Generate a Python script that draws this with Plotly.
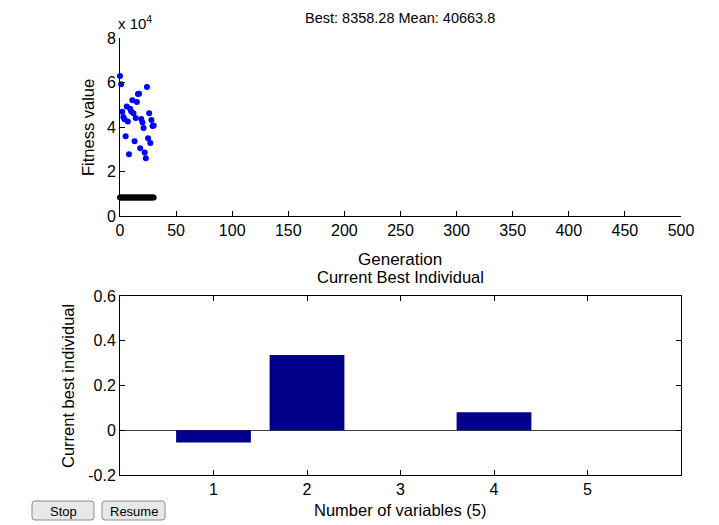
import plotly.graph_objects as go

# The page body has an 8px margin, so the figure is drawn 8px in from the top-left.
OFF = 8
W, H = 719 - OFF, 525 - OFF

# ---- data ----
generations = list(range(31))
best_fitness = [8358.28] * 31
mean_fitness = [62900, 59200, 46800, 44500, 43500, 35800, 49200, 42500, 27800, 48200,
                47000, 52000, 46200, 33600, 44000, 51200, 54800, 55000, 30500, 43600,
                42000, 39500, 28500, 26000, 58000, 35000, 46200, 32800, 43200, 40500,
                40663.8]
var_index = [1, 2, 3, 4, 5]
best_individual = [-0.055, 0.336, 0.0, 0.081, 0.0]
x_tick_vals = list(range(0, 501, 50))
y_tick_vals = [0, 2, 4, 6, 8]
bar_y_ticks = [-0.2, 0, 0.2, 0.4, 0.6]


def px(x):
    return (x - OFF) / W


def py(y):
    return 1 - (y - OFF) / H


FONT = "Liberation Sans, Arial, sans-serif"
TICK_FS = 16
LABEL_FS = 16.5

fig = go.Figure()
fig.add_trace(go.Scatter(x=generations, y=[v / 1e4 for v in best_fitness], mode="markers",
                         marker=dict(color="black", size=6), xaxis="x", yaxis="y",
                         cliponaxis=False, showlegend=False, hoverinfo="skip"))
fig.add_trace(go.Scatter(x=generations, y=[v / 1e4 for v in mean_fitness], mode="markers",
                         marker=dict(color="#0000FF", size=6), xaxis="x", yaxis="y",
                         cliponaxis=False, showlegend=False, hoverinfo="skip"))
fig.add_trace(go.Bar(x=var_index, y=best_individual, width=0.8,
                     marker=dict(color="#00008B", line=dict(width=0)),
                     xaxis="x2", yaxis="y2", showlegend=False, hoverinfo="skip"))

axis_common = dict(showgrid=False, showline=True, linecolor="black", linewidth=1,
                   ticks="inside", ticklen=5, tickcolor="black", tickwidth=1,
                   automargin=False,
                   tickfont=dict(family=FONT, size=TICK_FS, color="black"))

fig.update_layout(
    width=W, height=H,
    margin=dict(l=0, r=0, t=0, b=0, pad=0),
    paper_bgcolor="white", plot_bgcolor="white",
    xaxis=dict(domain=[px(120), px(681)], range=[0, 500], tickvals=x_tick_vals,
               anchor="y", zeroline=False, mirror=False, **axis_common),
    yaxis=dict(domain=[py(216), py(38)], range=[0, 8], tickvals=y_tick_vals,
               anchor="x", zeroline=False, mirror=False, **axis_common),
    xaxis2=dict(domain=[px(120), px(681)], range=[0, 6], tickvals=var_index,
                anchor="y2", zeroline=False, mirror="ticks", **axis_common),
    yaxis2=dict(domain=[py(475), py(296)], range=[-0.2, 0.6], tickvals=bar_y_ticks,
                ticktext=["-0.2", "0", "0.2", "0.4", "0.6"],
                anchor="x2", zeroline=True, zerolinecolor="#404040", zerolinewidth=1,
                mirror="ticks", **axis_common),
)


def ann(text, x, y, size=LABEL_FS, angle=0, xanchor="center", yanchor="middle"):
    fig.add_annotation(text=text, x=px(x), y=py(y), xref="paper", yref="paper",
                       showarrow=False, textangle=angle, xanchor=xanchor, yanchor=yanchor,
                       font=dict(family=FONT, size=size, color="black"))


ann("Best: %.2f Mean: %.1f" % (best_fitness[-1], mean_fitness[-1]), 400, 18, size=14.5)
ann("x 10<sup>4</sup>", 116, 22, size=15, xanchor="left")
ann("Generation", 400, 259, size=17)
ann("Current Best Individual", 400, 277)
ann("Number of variables (5)", 400, 510)
ann("Fitness value", 88, 128, angle=-90)
ann("Current best individual", 68, 386, angle=-90)


def rounded_rect(x0, y0, x1, y1, r=3):
    X0, X1 = px(x0), px(x1)
    Y0, Y1 = py(y1), py(y0)  # paper y: bottom, top
    rx, ry = r / W, r / H
    return (f"M {X0+rx},{Y0} L {X1-rx},{Y0} Q {X1},{Y0} {X1},{Y0+ry} "
            f"L {X1},{Y1-ry} Q {X1},{Y1} {X1-rx},{Y1} L {X0+rx},{Y1} "
            f"Q {X0},{Y1} {X0},{Y1-ry} L {X0},{Y0+ry} Q {X0},{Y0} {X0+rx},{Y0} Z")


for (x0, x1, label) in [(32, 94, "Stop"), (102, 165, "Resume")]:
    fig.add_shape(type="path", xref="paper", yref="paper",
                  path=rounded_rect(x0, 501, x1, 520),
                  line=dict(color="#8C8C8C", width=1), fillcolor="#E8E8E8")
    ann(label, (x0 + x1) / 2, 511, size=13)

fig.write_html("out.html")
